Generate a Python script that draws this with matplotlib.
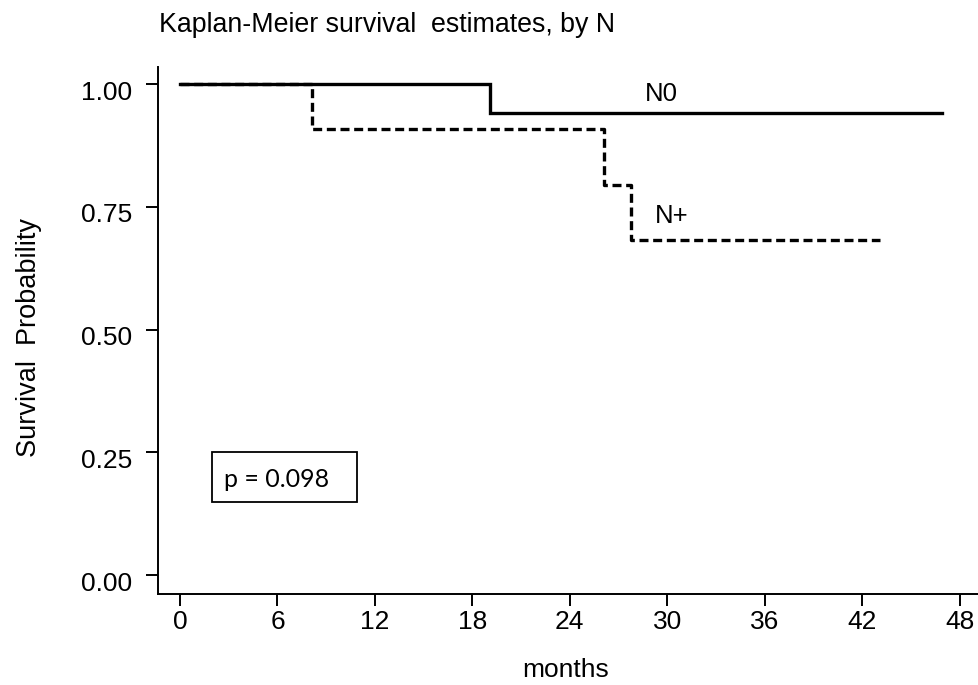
import matplotlib
matplotlib.use("Agg")
import matplotlib.pyplot as plt
from matplotlib.patches import Rectangle
from matplotlib.transforms import ScaledTranslation

# Kaplan-Meier step data (months, survival probability)
n0_times = [0, 19.1, 46.9]
n0_surv = [1.0, 0.942, 0.942]
npos_times = [0, 8.1, 26.1, 27.8, 43.1]
npos_surv = [1.0, 0.909, 0.795, 0.682, 0.682]

x_ticks = [0, 6, 12, 18, 24, 30, 36, 42, 48]
y_ticks = [0.0, 0.25, 0.5, 0.75, 1.0]
y_tick_labels = ["0.00", "0.25", "0.50", "0.75", "1.00"]

p_text = "p = 0.098"
title = "Kaplan-Meier survival  estimates, by N"

plt.rcParams["font.family"] = ["Liberation Sans", "DejaVu Sans"]

W, H = 979, 685
fig = plt.figure(figsize=(W / 100, H / 100), dpi=100)
ax = fig.add_axes([158.3 / W, 1 - 593.7 / H, (979 - 158.3) / W, (593.7 - 67) / H])

ax.step(n0_times, n0_surv, where="post", color="black", lw=2.4, solid_joinstyle="miter")
ax.step(npos_times, npos_surv, where="post", color="black", lw=2.4,
        linestyle=(0, (2.7, 1.4)), dash_capstyle="butt")

ax.set_xlim(-1.34, 49.2)
ax.set_ylim(-0.038, 1.035)
ax.set_xticks(x_ticks)
ax.set_yticks(y_ticks)
ax.set_yticklabels(y_tick_labels)

for s in ["top", "right"]:
    ax.spines[s].set_visible(False)
for s in ["left", "bottom"]:
    ax.spines[s].set_linewidth(1.4)
ax.tick_params(axis="both", direction="out", length=8.5, width=1.4,
               labelsize=19, colors="black")
ax.tick_params(axis="x", pad=3.5)
ax.tick_params(axis="y", pad=10)

# y tick labels sit slightly below their ticks
shift = ScaledTranslation(0, -6 / 100, fig.dpi_scale_trans)
for tick in ax.yaxis.get_major_ticks():
    tick.label1.set_transform(tick.label1.get_transform() + shift)

fig.text(159 / W, 1 - 32 / H, title, fontsize=19.3, ha="left", va="baseline")
fig.text(566 / W, 1 - 677 / H, "months", fontsize=19, ha="center", va="baseline")
fig.text(29 / W, 1 - 337 / H, "Survival  Probability", fontsize=19.5,
         rotation=90, ha="center", va="center")

ax.text(29.64, 0.966, "N0", fontsize=18.5, ha="center", va="baseline")
ax.text(30.25, 0.717, "N+", fontsize=18.5, ha="center", va="baseline")

ax.add_patch(Rectangle((1.95, 0.149), 10.89 - 1.95, 0.2505 - 0.149,
                       fill=False, ec="black", lw=1.3, zorder=3))
ax.text(5.95, 0.18, p_text, fontsize=18, ha="center", va="baseline",
        family=["Lato", "DejaVu Sans"])

fig.savefig("out.png", dpi=100)
